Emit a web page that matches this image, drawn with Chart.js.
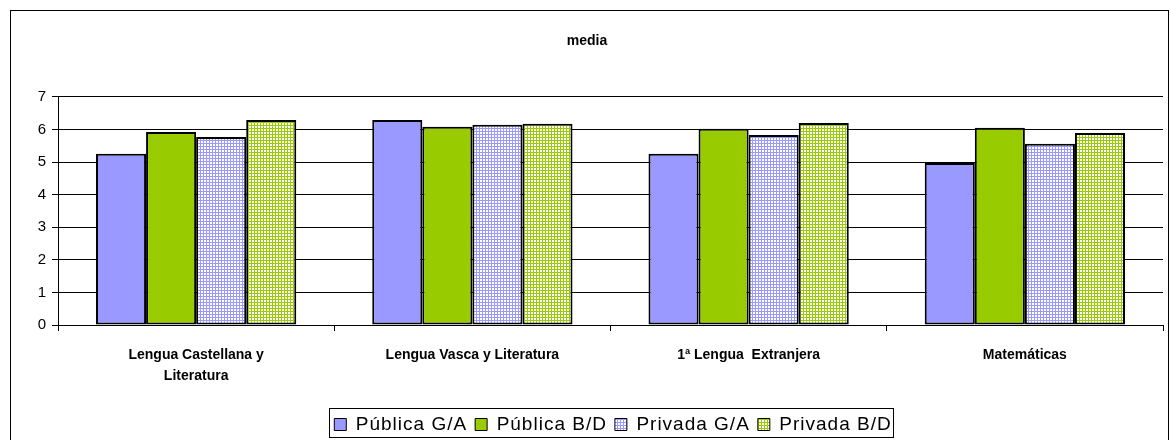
<!DOCTYPE html>
<html>
<head>
<meta charset="utf-8">
<script src="https://cdn.jsdelivr.net/npm/chart.js@4.4.1/dist/chart.umd.min.js"></script>
<style>
  html, body { margin: 0; padding: 0; background: #fff; overflow: hidden; }
  #frame {
    position: absolute; left: 10px; top: 10px;
    width: 1157px; height: 431px;
    border: 1px solid #000; border-bottom: none;
  }
  #frame canvas { display: block; }
</style>
</head>
<body>
<div id="frame"><canvas id="chart" width="1157" height="431"></canvas></div>
<script>
'use strict';

// ── Data ──────────────────────────────────────────────────
const CATEGORIES = [
  ['Lengua Castellana y', 'Literatura'],
  'Lengua Vasca y Literatura',
  '1ª Lengua  Extranjera',
  'Matemáticas',
];
const SERIES_NAMES = ['Pública G/A', 'Pública B/D', 'Privada G/A', 'Privada B/D'];
const PUBLICA_GA = [5.25, 6.29, 5.25, 4.97];
const PUBLICA_BD = [5.92, 6.08, 6.02, 6.05];
const PRIVADA_GA = [5.77, 6.14, 5.83, 5.56];
const PRIVADA_BD = [6.29, 6.17, 6.20, 5.89];
const Y_TICKS = [0, 1, 2, 3, 4, 5, 6, 7];

// ── Colors ────────────────────────────────────────────────
const BLUE  = '#9999ff';
const GREEN = '#99cc00';
const FONT  = "'Liberation Sans', Arial, sans-serif";

// grid-like hatch used by the "Privada" series
function gridPattern(color) {
  const c = document.createElement('canvas');
  c.width = 3; c.height = 3;
  const g = c.getContext('2d');
  g.fillStyle = '#fff';
  g.fillRect(0, 0, 3, 3);
  g.fillStyle = color;
  g.fillRect(0, 0, 3, 1);
  g.fillRect(0, 0, 1, 3);
  return g.createPattern(c, 'repeat');
}

// legend: spaced-out text, nudged right/down, box around the items only
const legendFrame = {
  id: 'legendFrame',
  afterInit(chart) {
    const l = chart.legend;
    if (!l) return;
    const wrap = fn => function (...args) {
      const ctx = this.ctx;
      ctx.save();
      ctx.letterSpacing = '1px';
      const r = fn.apply(this, args);
      ctx.restore();
      return r;
    };
    l.fit = wrap(l.fit);
    l.draw = wrap(l.draw);
  },
  afterLayout(chart) {
    const l = chart.legend;
    if (!l) return;
    l.left += 26; l.right += 26;
    l.top += 2;   l.bottom += 2;
  },
  afterDraw(chart) {
    const l = chart.legend;
    if (!l || !l.legendHitBoxes.length) return;
    const hb = l.legendHitBoxes;
    const x0 = Math.min(...hb.map(b => b.left)) - 5;
    const x1 = Math.max(...hb.map(b => b.left + b.width)) + 2;
    const y0 = Math.min(...hb.map(b => b.top)) - 7;
    const y1 = Math.max(...hb.map(b => b.top + b.height)) + 3;
    const ctx = chart.ctx;
    ctx.save();
    ctx.strokeStyle = '#000';
    ctx.lineWidth = 1;
    ctx.strokeRect(Math.round(x0) + 0.5, Math.round(y0) + 0.5,
                   Math.round(x1 - x0), Math.round(y1 - y0));
    ctx.restore();
  }
};

const fills = [BLUE, GREEN, gridPattern(BLUE), gridPattern(GREEN)];
const values = [PUBLICA_GA, PUBLICA_BD, PRIVADA_GA, PRIVADA_BD];

new Chart(document.getElementById('chart'), {
  type: 'bar',
  data: {
    labels: CATEGORIES,
    datasets: SERIES_NAMES.map((name, i) => ({
      label: name,
      data: values[i],
      backgroundColor: fills[i],
      borderColor: '#000',
      borderWidth: 2,
      borderSkipped: false,
      categoryPercentage: 0.725,
      barPercentage: 1,
    }))
  },
  options: {
    responsive: false,
    animation: false,
    devicePixelRatio: 1,
    layout: { padding: { left: 0, right: 5, top: 0, bottom: 0 } },
    plugins: {
      title: {
        display: true,
        text: 'media',
        color: '#000',
        font: { family: FONT, size: 14, weight: 'bold' },
        padding: { top: 22, bottom: 47 },
      },
      legend: {
        position: 'bottom',
        labels: {
          color: '#000',
          font: { family: FONT, size: 19 },
          boxWidth: 12,
          boxHeight: 12,
          padding: 8,
          generateLabels(chart) {
            return chart.data.datasets.map((d, i) => ({
              text: d.label,
              fillStyle: d.backgroundColor,
              strokeStyle: '#000',
              lineWidth: 1,
              datasetIndex: i,
            }));
          }
        }
      },
      tooltip: { enabled: false },
    },
    scales: {
      x: {
        afterFit: s => { s.height = 80; },
        grid: { offset: true, drawOnChartArea: false, color: '#000', tickLength: 6 },
        border: { color: '#000' },
        ticks: {
          color: '#000',
          font: { family: FONT, size: 14, weight: 'bold', lineHeight: 1.55 },
          padding: 13,
          maxRotation: 0,
          autoSkip: false,
        },
      },
      y: {
        min: 0, max: 7,
        afterBuildTicks: s => { s.ticks = Y_TICKS.map(v => ({ value: v })); },
        afterFit: s => { s.width = 47; },
        grid: { color: '#000', tickLength: 6 },
        border: { color: '#000' },
        ticks: {
          color: '#000',
          font: { family: FONT, size: 15 },
          padding: 6,
        },
      },
    },
  },
  plugins: [legendFrame],
});
</script>
</body>
</html>
